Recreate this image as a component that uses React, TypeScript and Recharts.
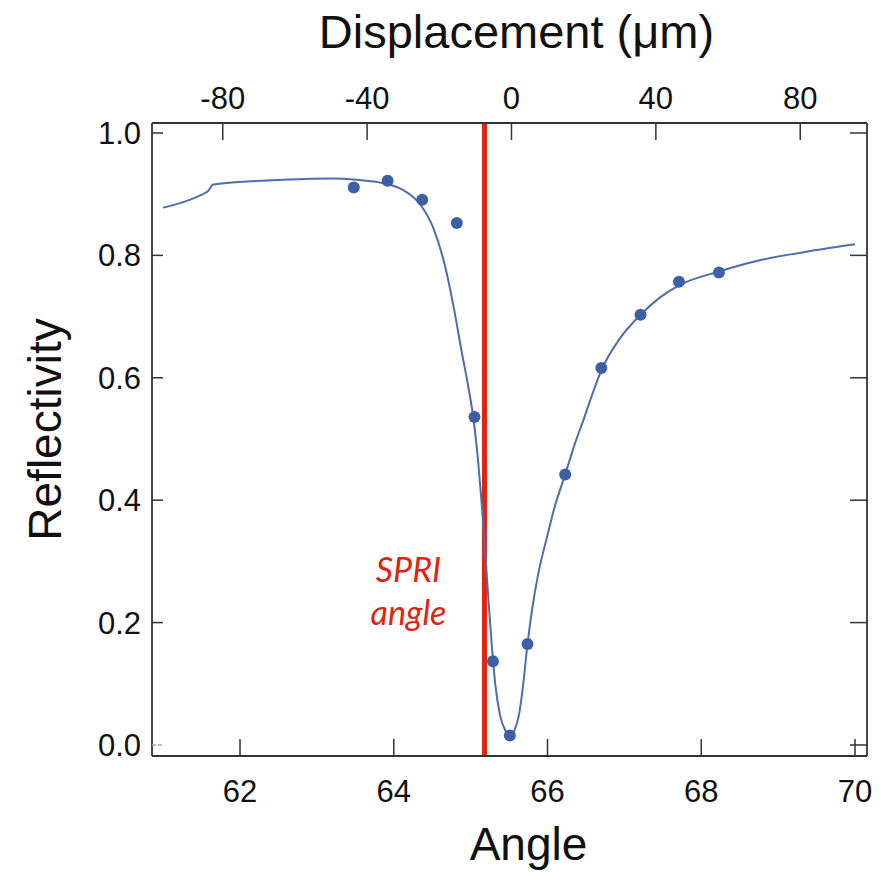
import React from 'react';
import { ComposedChart, Line, Scatter, XAxis, YAxis, ReferenceLine } from 'recharts';

// Fitted reflectivity curve (angle in degrees, reflectivity)
const curveAngle = [61.0, 61.26, 61.48, 61.59, 61.65, 62.56, 63.21, 63.52, 63.86, 64.12, 64.34, 64.51, 64.67, 64.78, 64.88, 64.97, 65.04, 65.1, 65.15, 65.2, 65.24, 65.28, 65.32, 65.38, 65.45, 65.51, 65.57, 65.63, 65.68, 65.74, 65.8, 65.88, 65.99, 66.1, 66.23, 66.35, 66.47, 66.58, 66.7, 66.94, 67.21, 67.46, 67.71, 68.24, 68.76, 69.42, 70.0];
const curveR = [0.878, 0.887, 0.898, 0.906, 0.916, 0.9235, 0.9257, 0.9235, 0.918, 0.907, 0.884, 0.846, 0.781, 0.715, 0.645, 0.585, 0.53, 0.46, 0.385, 0.296, 0.222, 0.155, 0.1, 0.05, 0.024, 0.0155, 0.024, 0.05, 0.095, 0.165, 0.222, 0.28, 0.338, 0.392, 0.442, 0.49, 0.532, 0.572, 0.612, 0.664, 0.703, 0.731, 0.751, 0.774, 0.792, 0.807, 0.818];

// Measured data points
const pointAngle = [63.48, 63.92, 64.37, 64.82, 65.05, 65.29, 65.51, 65.74, 66.23, 66.7, 67.21, 67.71, 68.23];
const pointR = [0.911, 0.922, 0.891, 0.853, 0.536, 0.137, 0.0155, 0.165, 0.442, 0.616, 0.703, 0.757, 0.772];

// Axes
const angleTicks = [62, 64, 66, 68, 70];
const displacementTicks = [-80, -40, 0, 40, 80];
const reflectivityTicks = [0, 0.2, 0.4, 0.6, 0.8, 1.0];
const spriAngle = 65.18;

const curveData = curveAngle.map((x, i) => ({ x, y: curveR[i] }));
const pointData = pointAngle.map((x, i) => ({ x, y: pointR[i] }));
const displacementData = displacementTicks.map((d) => ({ d, y: null as number | null }));

const AXIS = '#333';
const BLUE_LINE = '#4d6dac';
const BLUE_DOT = '#3d5fa6';
const RED = '#e2230d';
const FONT = '"Liberation Sans", Arial, sans-serif';
const TICK_FONT = 31;

const Dot = (props: any) => {
  const { cx, cy } = props;
  if (cx == null || cy == null) return null;
  return <circle cx={cx} cy={cy} r={6} fill={BLUE_DOT} />;
};

const BottomTick = (props: any) => {
  const { x, y, payload } = props;
  return (
    <g>
      <line x1={x} x2={x} y1={y} y2={y - 17} stroke={AXIS} strokeWidth={1.5} />
      <text x={x} y={y + 46} textAnchor="middle" fontSize={TICK_FONT} fontFamily={FONT} fill="#111">
        {payload.value}
      </text>
    </g>
  );
};

const TopTick = (props: any) => {
  const { x, y, payload } = props;
  return (
    <g>
      <line x1={x} x2={x} y1={y} y2={y + 17} stroke={AXIS} strokeWidth={1.5} />
      <text x={x} y={y - 14} textAnchor="middle" fontSize={TICK_FONT} fontFamily={FONT} fill="#111">
        {payload.value}
      </text>
    </g>
  );
};

const LeftTick = (props: any) => {
  const { x, y, payload } = props;
  const isZero = payload.value === 0;
  return (
    <g>
      <line x1={x} x2={x + 11} y1={y} y2={y} stroke={isZero ? '#aaa' : AXIS} strokeWidth={1.5} strokeDasharray={isZero ? '4 2' : undefined} />
      <text x={x - 11} y={y + 11} textAnchor="end" fontSize={TICK_FONT} fontFamily={FONT} fill="#111">
        {Number(payload.value).toFixed(1)}
      </text>
    </g>
  );
};

const RightTick = (props: any) => {
  const { x, y } = props;
  return <line x1={x} x2={x - 17} y1={y} y2={y} stroke={AXIS} strokeWidth={1.5} />;
};

export default function App() {
  return (
    <div style={{ position: 'absolute', left: 0, top: 0, width: 888, height: 872, background: '#fff' }}>
      <ComposedChart width={888} height={872} margin={{ top: 0, right: 0, bottom: 0, left: 0 }}>
        <XAxis
          xAxisId="bottom"
          type="number"
          dataKey="x"
          orientation="bottom"
          domain={[60.855, 70.156]}
          ticks={angleTicks}
          allowDataOverflow
          height={116}
          tickSize={0}
          tickMargin={0}
          tickLine={false}
          stroke={AXIS}
          strokeWidth={1.8}
          tick={<BottomTick />}
          label={{
            content: (p: any) => {
              const vb = p.viewBox;
              return (
                <text x={vb.x + vb.width / 2 + 19} y={860} textAnchor="middle" fontSize={46} fontFamily={FONT} fill="#111">
                  Angle
                </text>
              );
            },
          }}
        />
        <XAxis
          xAxisId="top"
          type="number"
          dataKey="d"
          orientation="top"
          domain={[-99.6, 98.5]}
          ticks={displacementTicks}
          allowDataOverflow
          height={123}
          tickSize={0}
          tickMargin={0}
          tickLine={false}
          stroke={AXIS}
          strokeWidth={1.8}
          tick={<TopTick />}
          label={{
            content: (p: any) => {
              const vb = p.viewBox;
              return (
                <text x={vb.x + vb.width / 2 + 7} y={48} textAnchor="middle" fontSize={47} fontFamily={FONT} fill="#111">
                  Displacement (μm)
                </text>
              );
            },
          }}
        />
        <YAxis
          yAxisId="left"
          type="number"
          orientation="left"
          domain={[-0.018, 1.0163]}
          ticks={reflectivityTicks}
          allowDataOverflow
          width={152}
          tickSize={0}
          tickMargin={0}
          tickLine={false}
          stroke={AXIS}
          strokeWidth={1.8}
          tick={<LeftTick />}
          label={{
            content: (p: any) => {
              const vb = p.viewBox;
              const cy = vb.y + vb.height / 2 - 10;
              return (
                <text x={61} y={cy} transform={`rotate(-90 61 ${cy})`} textAnchor="middle" fontSize={46} fontFamily={FONT} fill="#111">
                  Reflectivity
                </text>
              );
            },
          }}
        />
        <YAxis
          yAxisId="right"
          type="number"
          orientation="right"
          domain={[-0.018, 1.0163]}
          ticks={reflectivityTicks}
          allowDataOverflow
          width={21}
          tickSize={0}
          tickMargin={0}
          tickLine={false}
          stroke={AXIS}
          strokeWidth={1.8}
          tick={<RightTick />}
        />
        <ReferenceLine
          xAxisId="bottom"
          yAxisId="left"
          x={spriAngle}
          stroke={RED}
          strokeWidth={5}
          label={{
            content: (p: any) => {
              const vb = p.viewBox;
              const cx = vb.x - 76;
              return (
                <g>
                  <text x={cx} y={582} textAnchor="middle" fontSize={34} fontStyle="italic" fontFamily='Lato, "Open Sans", sans-serif' fill={RED}>
                    SPRI
                  </text>
                  <text x={cx} y={625} textAnchor="middle" fontSize={34} fontStyle="italic" fontFamily='Lato, "Open Sans", sans-serif' fill={RED}>
                    angle
                  </text>
                </g>
              );
            },
          }}
        />
        <Line
          xAxisId="top"
          yAxisId="left"
          data={displacementData}
          dataKey="y"
          stroke="none"
          dot={false}
          activeDot={false}
          legendType="none"
          isAnimationActive={false}
        />
        <Line
          xAxisId="bottom"
          yAxisId="left"
          data={curveData}
          dataKey="y"
          type="monotone"
          stroke={BLUE_LINE}
          strokeWidth={2}
          dot={false}
          activeDot={false}
          isAnimationActive={false}
        />
        <Scatter
          xAxisId="bottom"
          yAxisId="left"
          data={pointData}
          dataKey="y"
          fill={BLUE_DOT}
          shape={Dot}
          isAnimationActive={false}
        />
      </ComposedChart>
    </div>
  );
}
